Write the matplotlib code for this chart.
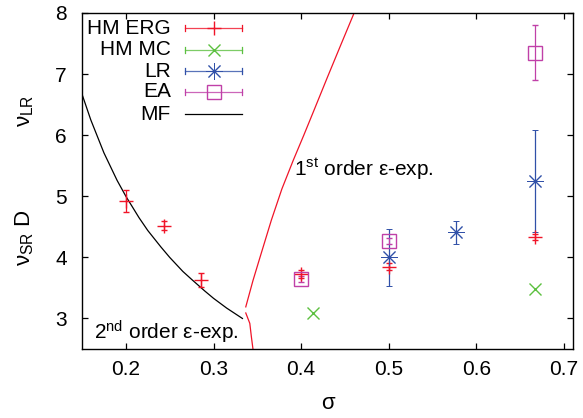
import matplotlib
matplotlib.use("Agg")
import matplotlib.pyplot as plt

plt.rcParams['font.family'] = ['Liberation Sans', 'DejaVu Sans']
plt.rcParams['mathtext.fontset'] = 'custom'
plt.rcParams['mathtext.rm'] = 'Liberation Sans'
plt.rcParams['mathtext.it'] = 'Liberation Sans'

# ---- data ----
erg_x = [0.2, 0.243, 0.2855, 0.4, 0.5, 0.667]
erg_y = [4.93, 4.52, 3.63, 3.73, 3.85, 4.33]
erg_e = [0.18, 0.08, 0.12, 0.07, 0.05, 0.05]

mc_x = [0.413, 0.667]
mc_y = [3.09, 3.49]

lr_x = [0.5, 0.577, 0.667]
lr_y = [4.0, 4.41, 5.25]
lr_e = [0.47, 0.19, 0.83]

ea_x = [0.4, 0.5, 0.667]
ea_y = [3.65, 4.27, 7.35]
ea_e = [0.05, 0.05, 0.45]

mf_x = [0.15, 0.16, 0.175, 0.19, 0.2, 0.215, 0.225, 0.24, 0.25, 0.265, 0.275, 0.29, 0.3, 0.315, 0.333]
mf_y = [6.67, 6.25, 5.71, 5.26, 5.0, 4.65, 4.44, 4.17, 4.0, 3.77, 3.64, 3.45, 3.33, 3.17, 3.0]

eps1_x = [0.3368, 0.345, 0.3528, 0.366, 0.378, 0.391, 0.403, 0.4147, 0.43, 0.445, 0.4604]
eps1_y = [3.19, 3.62, 3.99, 4.61, 5.12, 5.59, 6.0, 6.41, 6.95, 7.47, 8.0]

eps2_x = [0.3368, 0.3414, 0.3432, 0.345]
eps2_y = [3.09, 2.92, 2.7, 2.5]

xticks = [0.2, 0.3, 0.4, 0.5, 0.6, 0.7]
yticks = [3, 4, 5, 6, 7, 8]

c_red = '#f01428'
c_green = '#5cc040'
c_blue = '#3050a8'
c_mag = '#c040a8'

FS = 15

fig = plt.figure(figsize=(5.83, 4.18), dpi=100)
ax = fig.add_axes([0.1407, 0.165, 0.842, 0.804])

ax.plot(mf_x, mf_y, color='black', lw=0.9)
ax.plot(eps1_x, eps1_y, color=c_red, lw=0.9)
ax.plot(eps2_x, eps2_y, color=c_red, lw=0.9)

ekw = dict(linestyle='none', capsize=2.5, elinewidth=0.9, capthick=0.9)
ax.errorbar(erg_x, erg_y, yerr=erg_e, color=c_red, marker='+', markersize=10, markeredgewidth=1.0, **ekw)
ax.plot(mc_x, mc_y, linestyle='none', color=c_green, marker='x', markersize=9, markeredgewidth=1.0)
ax.errorbar(lr_x, lr_y, yerr=lr_e, color=c_blue, marker=(8, 2, 0), markersize=12, markeredgewidth=0.7, **ekw)
ax.errorbar(ea_x, ea_y, yerr=ea_e, color=c_mag, marker='s', markerfacecolor='none', markersize=10, markeredgewidth=1.0, **ekw)

ax.set_xlim(0.15, 0.71)
ax.set_ylim(2.5, 8)
ax.set_xticks(xticks)
ax.set_xticklabels([f'{t:g}' for t in xticks])
ax.set_yticks(yticks)
ax.set_yticklabels([str(t) for t in yticks])
ax.tick_params(direction='in', length=4, width=0.9, top=True, right=True,
               labelsize=FS, pad=8)
ax.tick_params(axis='y', pad=11)
for s in ax.spines.values():
    s.set_linewidth(1.0)

ax.set_xlabel('σ', fontsize=16, labelpad=10)

fig.text(25/583, 1 - 111/418, r'$\nu_{\mathrm{LR}}$', rotation=90, ha='center', va='center', fontsize=16)
fig.text(25/583, 1 - 238/418, r'$\nu_{\mathrm{SR}}\ \mathrm{D}$', rotation=90, ha='center', va='center', fontsize=16)

ax.text(0.392, 5.45, r'1$^{\mathrm{st}}$ order ε-exp.', fontsize=FS, ha='left', va='center')
ax.text(0.164, 2.78, r'2$^{\mathrm{nd}}$ order ε-exp.', fontsize=FS, ha='left', va='center')

# legend (gnuplot style)
labels = ['HM ERG', 'HM MC', 'LR', 'EA', 'MF']
colors = [c_red, c_green, c_blue, c_mag, 'black']
markers = ['+', 'x', (8, 2, 0), 's', None]
msizes = [10, 9, 12, 10, 0]
mews = [1.0, 1.0, 0.7, 1.0, 1.0]
rows = [0.955, 0.890, 0.827, 0.765, 0.699]
x0, x1, xm, xt = 0.210, 0.326, 0.268, 0.181
for lab, col, mk, ms, mw, yy in zip(labels, colors, markers, msizes, mews, rows):
    ax.text(xt, yy, lab, transform=ax.transAxes, ha='right', va='center', fontsize=FS)
    ax.plot([x0, x1], [yy, yy], transform=ax.transAxes, color=col, lw=0.9,
            alpha=0.8 if mk is not None else 1.0)
    if mk is not None:
        for xe in (x0, x1):
            ax.plot([xe, xe], [yy - 0.009, yy + 0.009], transform=ax.transAxes, color=col, lw=0.9)
        ax.plot([xm], [yy], transform=ax.transAxes, color=col, marker=mk, markersize=ms,
                markeredgewidth=mw, markerfacecolor='none', linestyle='none')

fig.savefig('out.png', dpi=100)
